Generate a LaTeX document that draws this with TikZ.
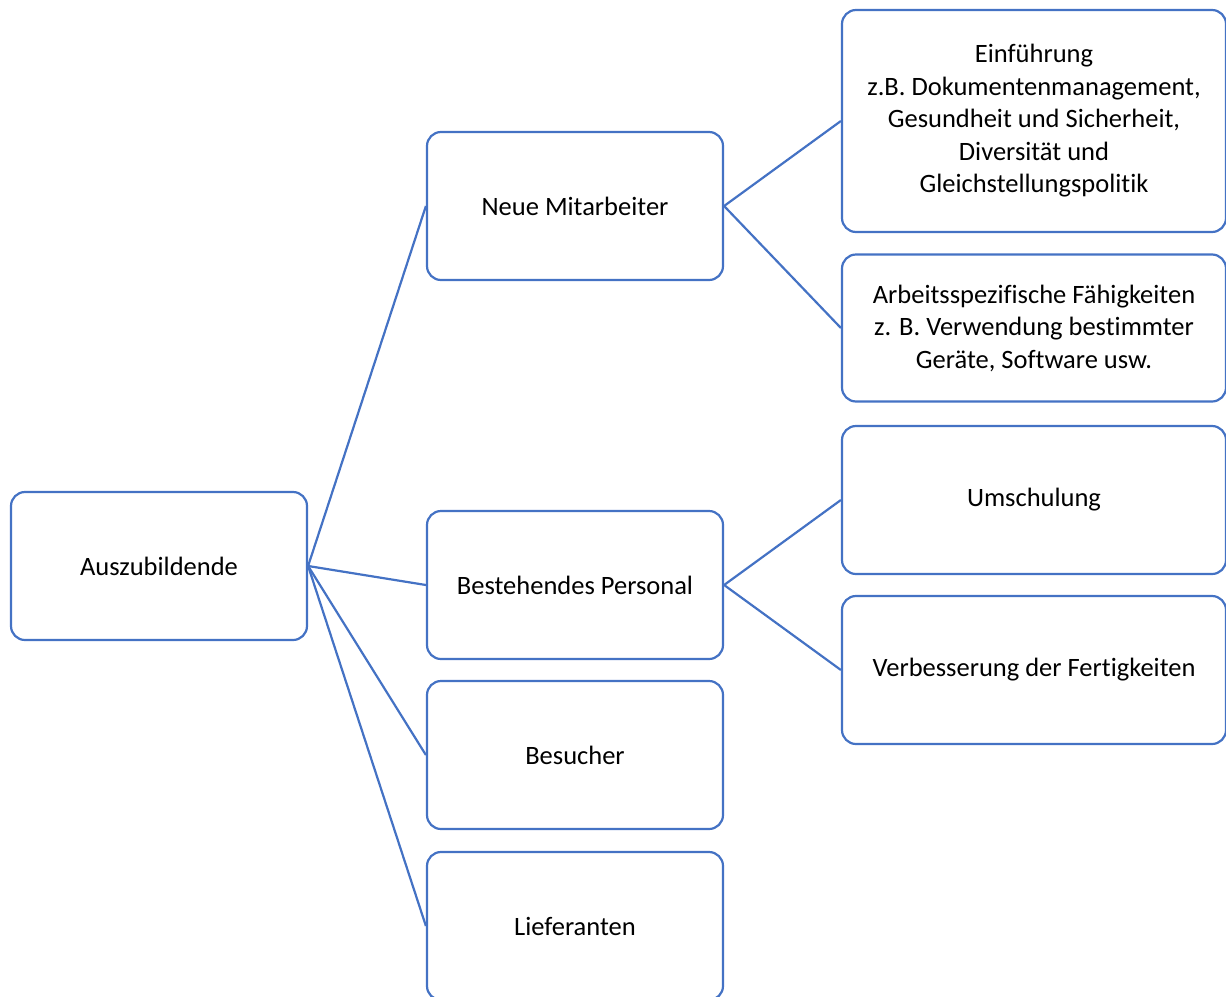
\documentclass[tikz,border=0pt]{standalone}
\usepackage{fontspec}
\setmainfont{Carlito}[Ligatures=NoCommon]
\begin{document}
\begin{tikzpicture}[x=1pt,y=-1pt,
  box/.style={draw=boxblue, line width=2.2pt, rounded corners=14pt, fill=white,
    minimum width=296pt, minimum height=148pt, align=center, inner sep=0pt,
    font=\fontsize{26.5}{32.5}\selectfont},
  wbox/.style={box, minimum width=384pt},
  link/.style={draw=boxblue, line width=2.2pt}]
\definecolor{boxblue}{HTML}{4472C4}
\useasboundingbox (0,0) rectangle (1226,996);
\node[box] (a) at (159,566) {Auszubildende};
\node[box] (n) at (575,206) {Neue Mitarbeiter};
\node[box] (b) at (575,585) {Bestehendes Personal};
\node[box] (v) at (575,755) {Besucher};
\node[box] (l) at (575,926) {Lieferanten};
\node[wbox, minimum height=222pt] (e) at (1034,121) {Einführung\\z.B. Dokumentenmanagement,\\Gesundheit und Sicherheit,\\Diversität und\\Gleichstellungspolitik};
\node[wbox, minimum height=147pt] (f) at (1034,328) {Arbeitsspezifische Fähigkeiten\\z. B. Verwendung bestimmter\\Geräte, Software usw.};
\node[wbox] (u) at (1034,500) {Umschulung};
\node[wbox] (vf) at (1034,670) {Verbesserung der Fertigkeiten};
\draw[link] (a.east) -- (n.west);
\draw[link] (a.east) -- (b.west);
\draw[link] (a.east) -- (v.west);
\draw[link] (a.east) -- (l.west);
\draw[link] (n.east) -- (e.west);
\draw[link] (n.east) -- (f.west);
\draw[link] (b.east) -- (u.west);
\draw[link] (b.east) -- (vf.west);
\end{tikzpicture}
\end{document}
